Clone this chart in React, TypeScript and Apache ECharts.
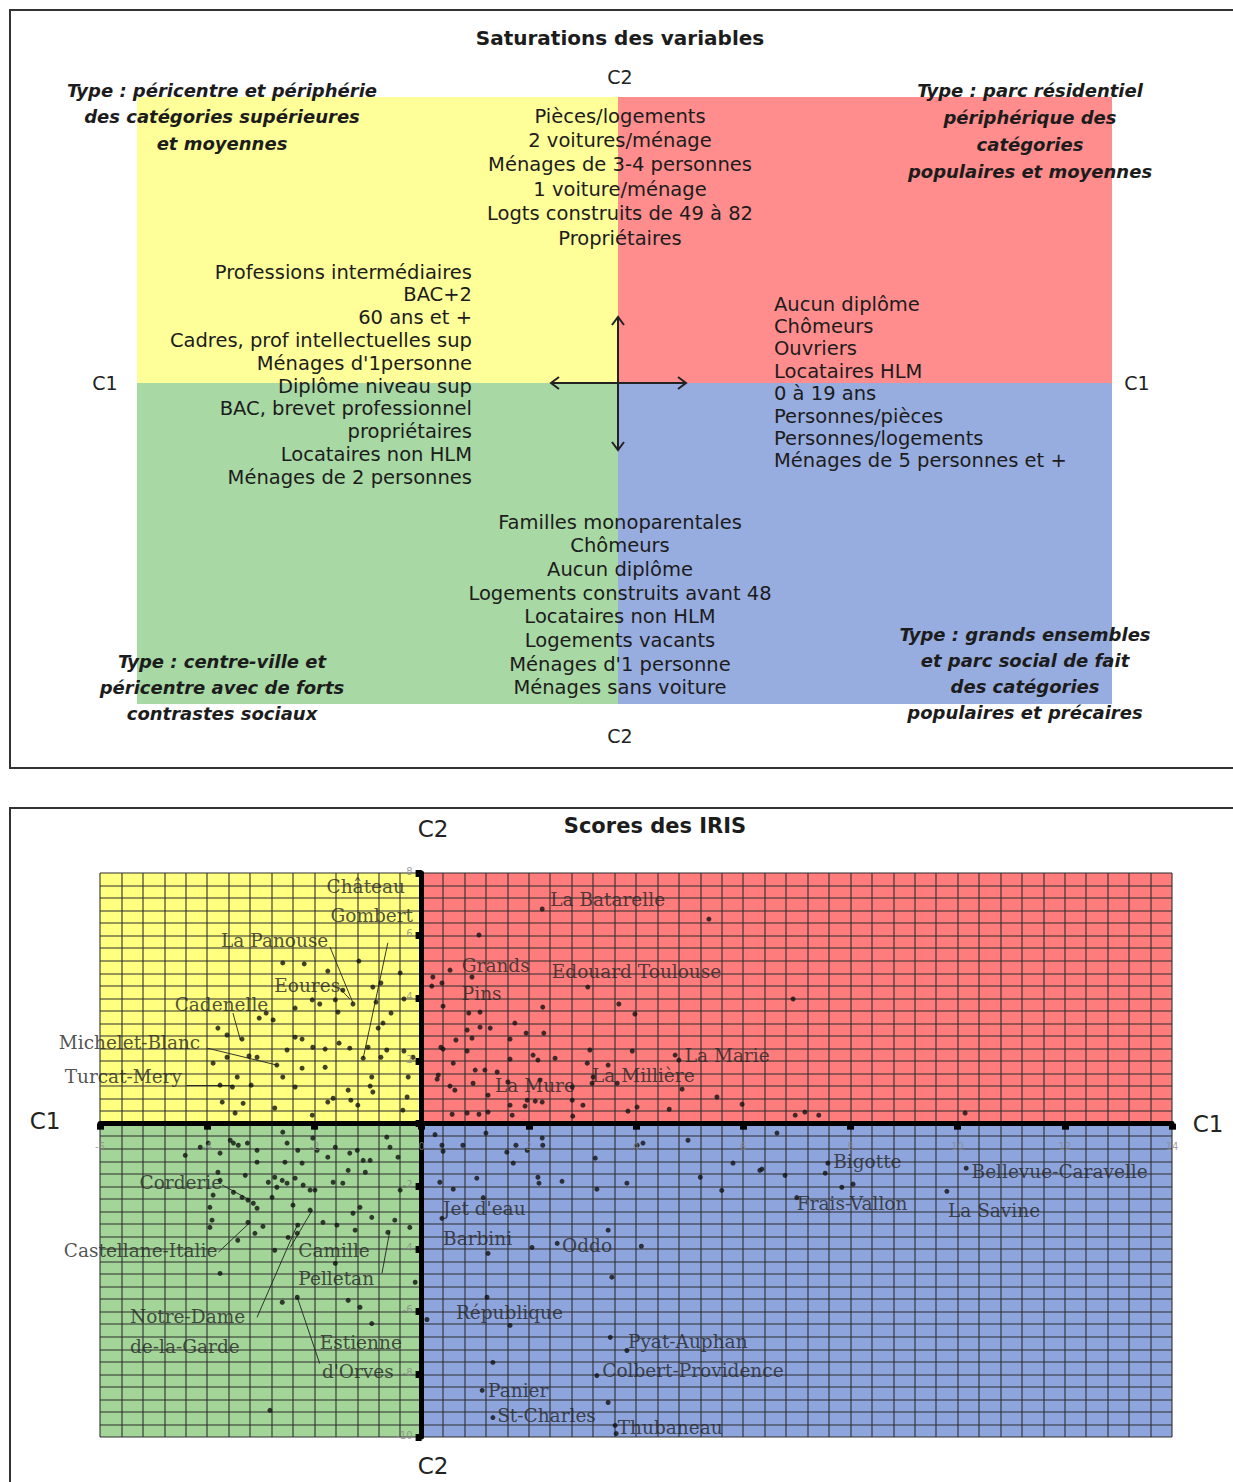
import React, { useEffect, useRef } from "react";
import * as echarts from "echarts";

// ---------- Bottom panel: scores des IRIS ----------
const X_RANGE = [-6, 14];
const Y_RANGE = [-10, 8];
const MAJOR_STEP = 2;
const MINOR_SPLIT = 5;
const xTickLabels = [-6, -4, -2, 0, 2, 4, 6, 8, 10, 12, 14];
const yTickLabels = [8, 6, 4, 2, -2, -4, -6, -8, -10];

const upperLeft: number[][] = [
  [-2.59, 5.13], [-2.19, 5.1], [-1.75, 4.87], [-1.17, 5.19], [-0.4, 4.81], [-0.76, 4.49], [-0.91, 4.36],
  [-1.47, 4.26], [-2.04, 3.95], [-2.36, 3.69], [-1.9, 3.82], [-1.61, 3.95], [-1.56, 3.56], [-1.28, 3.82],
  [-0.85, 3.88], [-0.57, 3.53], [-0.33, 3.98], [-3.03, 3.37], [-2.77, 3.31], [-2.9, 3.53], [-3.8, 3.05],
  [-3.63, 2.83], [-3.35, 2.7], [-2.36, 2.76], [-2.23, 2.7], [-2.03, 2.44], [-1.8, 2.38], [-1.54, 2.57],
  [-1.34, 2.41], [-1.0, 2.44], [-0.81, 3.05], [-0.72, 3.21], [-2.51, 2.35], [-0.33, 2.32], [-0.16, 2.12],
  [-3.89, 1.93], [-3.63, 2.12], [-3.22, 2.16], [-3.07, 2.12], [-2.7, 1.87], [-2.23, 1.77], [-1.8, 1.8],
  [-1.09, 2.09], [-0.76, 2.12], [-3.76, 1.23], [-3.53, 1.17], [-3.44, 1.49], [-3.18, 1.23], [-2.59, 1.49],
  [-2.36, 1.17], [-1.37, 1.07], [-0.96, 1.2], [-0.93, 1.49], [-0.25, 1.49], [-3.72, 0.69], [-3.33, 0.65],
  [-2.74, 0.5], [-1.75, 0.69], [-1.65, 0.81], [-1.32, 0.75], [-1.19, 0.59], [-0.27, 0.85], [-3.48, 0.34],
  [-2.04, 0.27], [-0.35, 0.43], [-0.91, 1.01], [-0.65, 2.35],
];

const upperRight: number[][] = [
  [2.25, 6.85], [5.36, 6.53], [1.07, 6.02], [0.53, 4.9], [0.21, 4.68], [0.19, 4.39], [0.38, 4.49],
  [0.94, 4.68], [0.4, 3.75], [0.88, 3.53], [1.09, 3.56], [2.26, 3.72], [3.1, 4.36], [3.68, 3.82],
  [3.98, 3.5], [6.93, 3.98], [1.74, 3.21], [0.85, 2.99], [0.94, 2.73], [1.09, 3.08], [1.28, 3.05],
  [0.64, 2.67], [0.36, 2.44], [0.4, 2.38], [1.95, 2.89], [1.65, 2.7], [2.28, 2.89], [0.85, 2.32],
  [3.14, 2.35], [3.93, 2.32], [2.49, 2.09], [2.08, 2.19], [2.17, 2.03], [1.65, 2.06], [0.59, 1.93],
  [3.09, 1.93], [3.48, 1.87], [4.73, 2.19], [4.8, 2.03], [0.31, 1.55], [0.29, 1.42], [1.0, 1.71],
  [1.18, 1.71], [1.41, 1.65], [0.96, 1.29], [0.53, 1.2], [0.62, 1.07], [1.61, 1.33], [2.21, 1.39],
  [2.81, 1.17], [3.18, 1.29], [3.2, 1.49], [3.65, 1.29], [4.86, 1.1], [1.24, 0.91], [1.97, 0.75],
  [2.12, 0.72], [2.25, 0.69], [1.65, 0.59], [1.93, 0.56], [5.51, 0.85], [2.81, 0.75], [5.98, 0.62],
  [3.01, 0.59], [0.57, 0.3], [0.85, 0.34], [1.07, 0.3], [1.24, 0.37], [1.69, 0.27], [2.82, 0.24],
  [3.85, 0.4], [4.02, 0.53], [4.62, 0.46], [6.97, 0.27], [7.15, 0.37], [7.41, 0.27], [10.14, 0.34],
];

const lowerRight: number[][] = [
  [0.38, -0.69], [0.77, -0.69], [0.4, -0.88], [1.59, -0.91], [1.76, -0.69], [1.97, -0.85], [2.26, -0.69],
  [2.25, -0.46], [1.71, -1.26], [3.24, -1.1], [4.02, -0.69], [4.13, -0.62], [4.97, -0.53], [5.81, -1.26],
  [6.35, -1.45], [6.78, -1.65], [5.2, -1.71], [5.6, -2.13], [3.83, -1.9], [3.27, -2.09], [2.62, -1.84],
  [2.17, -1.71], [2.19, -1.9], [1.03, -1.74], [0.59, -2.09], [0.34, -1.87], [1.15, -2.36], [0.38, -3.02],
  [2.06, -3.95], [2.53, -3.82], [3.48, -3.4], [4.1, -3.91], [1.24, -4.14], [3.55, -4.9], [1.22, -5.54],
  [1.65, -6.44], [0.1, -6.25], [3.52, -6.82], [3.83, -7.24], [3.27, -8.04], [1.33, -7.62], [1.13, -8.51],
  [3.48, -8.9], [1.33, -9.38], [3.61, -9.63], [3.63, -9.89], [7.53, -1.58], [7.0, -2.36], [6.63, -0.3],
  [6.31, -1.49], [8.05, -1.93], [7.84, -2.03], [9.8, -2.16], [7.58, -1.26], [10.16, -1.42], [0.25, -0.35],
  [1.2, -0.3],
];

const lowerLeft: number[][] = [
  [-4.13, -0.75], [-3.98, -0.62], [-3.76, -0.94], [-3.57, -0.53], [-3.51, -0.62], [-3.42, -0.69],
  [-3.25, -0.62], [-3.07, -0.85], [-3.07, -1.23], [-2.59, -0.27], [-2.51, -0.62], [-2.55, -1.23],
  [-2.23, -1.26], [-2.31, -0.85], [-2.03, -0.46], [-1.95, -0.85], [-1.75, -1.07], [-1.61, -0.75],
  [-1.34, -0.94], [-1.2, -0.85], [-1.09, -1.17], [-0.96, -1.17], [-0.65, -0.43], [-0.44, -1.07],
  [-0.59, -0.75], [-1.37, -1.49], [-1.05, -1.55], [-4.41, -1.01], [-3.8, -1.55], [-3.76, -1.81],
  [-3.29, -1.65], [-3.89, -2.28], [-3.51, -2.19], [-3.35, -2.35], [-3.24, -2.44], [-3.14, -2.54],
  [-3.07, -2.7], [-2.86, -1.87], [-2.7, -2.03], [-2.74, -1.71], [-2.6, -1.81], [-2.51, -1.9],
  [-2.36, -1.74], [-2.21, -1.96], [-2.08, -2.12], [-1.99, -2.12], [-2.79, -2.35], [-2.4, -2.6],
  [-1.47, -1.9], [-1.65, -1.87], [-3.95, -2.67], [-3.91, -3.08], [-3.95, -3.31], [-3.24, -3.15],
  [-3.11, -3.5], [-2.96, -3.28], [-3.43, -3.72], [-2.31, -3.24], [-2.32, -3.5], [-2.49, -3.63],
  [-2.08, -2.76], [-1.15, -2.67], [-1.28, -2.86], [-0.93, -2.99], [-0.5, -3.08], [-1.58, -3.24],
  [-1.24, -3.4], [-0.63, -3.47], [-0.22, -3.31], [-1.84, -3.15], [-2.74, -4.04], [-3.76, -4.78],
  [-0.12, -5.06], [-1.61, -4.46], [-1.37, -5.64], [-1.15, -5.86], [-2.6, -5.7], [-2.32, -5.54],
  [-0.93, -6.38], [-2.83, -9.15], [-0.4, -2.12],
];

// label text, x, y (data units), anchor side
const irisLabels: [string, number, number, string][] = [
  ["Château", -0.31, 7.56, "right"],
  ["Gombert", -0.16, 6.63, "right"],
  ["La Panouse", -1.74, 5.86, "right"],
  ["Eoures", -1.52, 4.42, "right"],
  ["Cadenelle", -2.86, 3.79, "right"],
  ["Michelet-Blanc", -4.13, 2.6, "right"],
  ["Turcat-Mery", -4.47, 1.49, "right"],
  ["La Batarelle", 2.4, 7.14, "left"],
  ["Grands", 0.75, 5.06, "left"],
  ["Pins", 0.75, 4.17, "left"],
  ["Edouard Toulouse", 2.43, 4.87, "left"],
  ["La Marie", 4.91, 2.19, "left"],
  ["La Mure", 1.37, 1.23, "left"],
  ["La Millière", 3.18, 1.55, "left"],
  ["Bigotte", 7.68, -1.2, "left"],
  ["Bellevue-Caravelle", 10.26, -1.52, "left"],
  ["Frais-Vallon", 7.0, -2.54, "left"],
  ["La Savine", 9.82, -2.76, "left"],
  ["Jet d'eau", 0.4, -2.7, "left"],
  ["Barbini", 0.4, -3.66, "left"],
  ["Oddo", 2.62, -3.88, "left"],
  ["République", 0.64, -6.02, "left"],
  ["Pyat-Auphan", 3.85, -6.95, "left"],
  ["Colbert-Providence", 3.37, -7.88, "left"],
  ["Panier", 1.24, -8.51, "left"],
  ["St-Charles", 1.41, -9.31, "left"],
  ["Thubaneau", 3.66, -9.69, "left"],
  ["Corderie", -3.72, -1.87, "right"],
  ["Castellane-Italie", -3.81, -4.04, "right"],
  ["Camille", -2.3, -4.04, "left"],
  ["Pelletan", -2.3, -4.94, "left"],
  ["Notre-Dame", -5.44, -6.15, "left"],
  ["de-la-Garde", -5.44, -7.11, "left"],
  ["Estienne", -1.9, -6.98, "left"],
  ["d'Orves", -1.86, -7.91, "left"],
];

// leader lines: x1, y1, x2, y2 (data units)
const leaderLines: number[][] = [
  [-0.63, 5.77, -1.09, 2.09],
  [-1.71, 5.64, -1.28, 3.85],
  [-1.55, 4.36, -1.34, 3.98],
  [-3.52, 3.53, -3.38, 2.67],
  [-4.0, 2.41, -2.7, 1.87],
  [-4.38, 1.23, -3.51, 1.23],
  [-3.72, -1.96, -3.2, -2.44],
  [-3.79, -4.1, -3.2, -3.15],
  [-2.45, -3.95, -2.04, -2.76],
  [-0.74, -4.78, -0.59, -3.4],
  [-3.07, -6.18, -2.32, -3.24],
  [-1.9, -7.66, -2.32, -5.54],
];

// ---------- Top panel: saturations des variables ----------
const varsTopCenter = [
  "Pièces/logements", "2 voitures/ménage", "Ménages de 3-4 personnes", "1 voiture/ménage",
  "Logts construits de 49 à 82", "Propriétaires",
];
const varsLeft = [
  "Professions intermédiaires", "BAC+2", "60 ans et +", "Cadres, prof intellectuelles sup",
  "Ménages d'1personne", "Diplôme niveau sup", "BAC, brevet professionnel", "propriétaires",
  "Locataires non HLM", "Ménages de 2 personnes",
];
const varsRight = [
  "Aucun diplôme", "Chômeurs", "Ouvriers", "Locataires HLM", "0 à 19 ans", "Personnes/pièces",
  "Personnes/logements", "Ménages de 5 personnes et +",
];
const varsBottomCenter = [
  "Familles monoparentales", "Chômeurs", "Aucun diplôme", "Logements construits avant 48",
  "Locataires non HLM", "Logements vacants", "Ménages d'1 personne", "Ménages sans voiture",
];
const typeTopLeft = ["Type : péricentre et périphérie", "des catégories supérieures", "et moyennes"];
const typeTopRight = ["Type : parc résidentiel", "périphérique des", "catégories", "populaires et moyennes"];
const typeBottomLeft = ["Type : centre-ville et", "péricentre avec de forts", "contrastes sociaux"];
const typeBottomRight = ["Type : grands ensembles", "et parc social de fait", "des catégories", "populaires et précaires"];

const SANS = '"DejaVu Sans", sans-serif';
const SERIF = '"DejaVu Serif", serif';

function txt(text: string, x: number, y: number, font: string, align = "center", fill = "#1c1c1c") {
  return {
    type: "text",
    x,
    y,
    z: 10,
    silent: true,
    style: { text, font, textAlign: align, textVerticalAlign: "middle", fill },
  };
}

function block(lines: string[], x: number, y0: number, step: number, font: string, align: string) {
  return lines.map((l, i) => txt(l, x, y0 + i * step, font, align));
}

function buildOption() {
  const varFont = `19.5px ${SANS}`;
  const typeFont = `italic bold 18px ${SANS}`;
  const graphic: any[] = [
    // frames
    { type: "rect", shape: { x: 10, y: 10, width: 1240, height: 758 }, style: { fill: "none", stroke: "#333", lineWidth: 2 }, z: 1 },
    { type: "rect", shape: { x: 10, y: 808, width: 1240, height: 700 }, style: { fill: "none", stroke: "#333", lineWidth: 2 }, z: 1 },
    // top quadrants
    { type: "rect", shape: { x: 137, y: 97, width: 481, height: 286 }, style: { fill: "#ffff99" }, z: 2 },
    { type: "rect", shape: { x: 618, y: 97, width: 494, height: 286 }, style: { fill: "#ff8d8d" }, z: 2 },
    { type: "rect", shape: { x: 137, y: 383, width: 481, height: 321 }, style: { fill: "#a8d8a4" }, z: 2 },
    { type: "rect", shape: { x: 618, y: 383, width: 494, height: 321 }, style: { fill: "#98addf" }, z: 2 },
    // arrows
    { type: "line", shape: { x1: 551, y1: 383, x2: 686, y2: 383 }, style: { stroke: "#222", lineWidth: 2 }, z: 5 },
    { type: "line", shape: { x1: 618, y1: 317, x2: 618, y2: 450 }, style: { stroke: "#222", lineWidth: 2 }, z: 5 },
    { type: "polyline", shape: { points: [[559, 377], [551, 383], [559, 389]] }, style: { stroke: "#222", lineWidth: 2, fill: "none" }, z: 5 },
    { type: "polyline", shape: { points: [[678, 377], [686, 383], [678, 389]] }, style: { stroke: "#222", lineWidth: 2, fill: "none" }, z: 5 },
    { type: "polyline", shape: { points: [[612, 325], [618, 317], [624, 325]] }, style: { stroke: "#222", lineWidth: 2, fill: "none" }, z: 5 },
    { type: "polyline", shape: { points: [[612, 442], [618, 450], [624, 442]] }, style: { stroke: "#222", lineWidth: 2, fill: "none" }, z: 5 },
    // titles and axis names
    txt("Saturations des variables", 620, 38, `bold 20px ${SANS}`),
    txt("C2", 620, 77, `19px ${SANS}`, "center", "#222"),
    txt("C2", 620, 736, `19px ${SANS}`, "center", "#222"),
    txt("C1", 105, 383, `19px ${SANS}`, "center", "#222"),
    txt("C1", 1137, 383, `19px ${SANS}`, "center", "#222"),
    ...block(typeTopLeft, 222, 90, 26.5, typeFont, "center"),
    ...block(typeTopRight, 1030, 90, 27, typeFont, "center"),
    ...block(typeBottomLeft, 222, 661, 26, typeFont, "center"),
    ...block(typeBottomRight, 1025, 634, 26, typeFont, "center"),
    ...block(varsTopCenter, 620, 116, 24.4, varFont, "center"),
    ...block(varsLeft, 472, 272, 22.8, varFont, "right"),
    ...block(varsRight, 774, 304, 22.4, varFont, "left"),
    ...block(varsBottomCenter, 620, 522, 23.7, varFont, "center"),
    // bottom panel texts
    txt("Scores des IRIS", 655, 826, `bold 21px ${SANS}`),
    txt("C2", 433, 829, `23px ${SANS}`, "center", "#222"),
    txt("C2", 433, 1466, `23px ${SANS}`, "center", "#222"),
    txt("C1", 45, 1121, `23px ${SANS}`, "center", "#222"),
    txt("C1", 1208, 1124, `23px ${SANS}`, "center", "#222"),
  ];

  const gridLine = { color: "#2e2e2e", width: 1.6, opacity: 0.68 };
  const axisCommon = {
    type: "value",
    interval: MAJOR_STEP,
    z: 2,
    axisLine: { onZero: true, lineStyle: { color: "#000", width: 5 } },
    axisTick: { show: true, length: 6, lineStyle: { color: "#000", width: 7 } },
    axisLabel: { show: false },
    splitLine: { show: true, lineStyle: gridLine },
    minorTick: { show: true, splitNumber: MINOR_SPLIT, length: 0 },
    minorSplitLine: { show: true, lineStyle: gridLine },
  };

  const quadrants = [
    { x: [X_RANGE[0], 0], y: [0, Y_RANGE[1]], color: "#ffff80" },
    { x: [0, X_RANGE[1]], y: [0, Y_RANGE[1]], color: "#ff7c7c" },
    { x: [X_RANGE[0], 0], y: [Y_RANGE[0], 0], color: "#a2d597" },
    { x: [0, X_RANGE[1]], y: [Y_RANGE[0], 0], color: "#8da4dd" },
  ];

  const allPoints = [...upperLeft, ...upperRight, ...lowerRight, ...lowerLeft];
  const tickLabelStyle = { show: true, fontSize: 10, color: "#8a8a8a", fontFamily: SANS, formatter: "{b}" };

  return {
    animation: false,
    backgroundColor: "#ffffff",
    graphic,
    grid: { left: 100, top: 873, width: 1072, height: 564, containLabel: false },
    xAxis: { ...axisCommon, min: X_RANGE[0], max: X_RANGE[1] },
    yAxis: { ...axisCommon, min: Y_RANGE[0], max: Y_RANGE[1] },
    series: [
      {
        type: "scatter",
        data: [[0, 0]],
        symbolSize: 0,
        silent: true,
        z: 0,
        markArea: {
          silent: true,
          z: 0,
          data: quadrants.map((q) => [
            { xAxis: q.x[0], yAxis: q.y[0], itemStyle: { color: q.color, opacity: 1 } },
            { xAxis: q.x[1], yAxis: q.y[1] },
          ]),
        },
      },
      {
        type: "lines",
        coordinateSystem: "cartesian2d",
        silent: true,
        z: 3,
        lineStyle: { color: "#222", width: 1, opacity: 0.9 },
        data: leaderLines.map((l) => ({ coords: [[l[0], l[1]], [l[2], l[3]]] })),
      },
      {
        type: "scatter",
        data: allPoints,
        symbol: "circle",
        symbolSize: 5,
        itemStyle: { color: "#111" },
        z: 4,
      },
      {
        type: "scatter",
        symbolSize: 0,
        silent: true,
        z: 5,
        data: irisLabels.map((l) => ({
          value: [l[1], l[2]],
          name: l[0],
          label: { align: l[3] },
        })),
        label: {
          show: true,
          position: "inside",
          formatter: "{b}",
          verticalAlign: "middle",
          fontFamily: SERIF,
          fontSize: 18.5,
          color: "#262626",
        },
      },
      {
        // x tick labels just under the C1 axis
        type: "scatter",
        symbolSize: 0,
        silent: true,
        z: 5,
        data: xTickLabels.map((v) => ({ value: [v, 0], name: String(v) })),
        label: { ...tickLabelStyle, position: "inside", align: "center", verticalAlign: "middle", offset: [0, 23] },
      },
      {
        // y tick labels to the left of the C2 axis
        type: "scatter",
        symbolSize: 0,
        silent: true,
        z: 5,
        data: yTickLabels.map((v) => ({ value: [0, v], name: String(v) })),
        label: { ...tickLabelStyle, position: "inside", align: "right", verticalAlign: "middle", offset: [-9, -2] },
      },
    ],
  };
}

export default function App() {
  const ref = useRef<HTMLDivElement>(null);
  useEffect(() => {
    if (!ref.current) return;
    const chart = echarts.init(ref.current, null, { renderer: "svg" });
    chart.setOption(buildOption() as any);
    return () => chart.dispose();
  }, []);
  return (
    <div
      ref={ref}
      style={{ position: "absolute", left: 0, top: 0, width: 1233, height: 1482, background: "#fff" }}
    />
  );
}
